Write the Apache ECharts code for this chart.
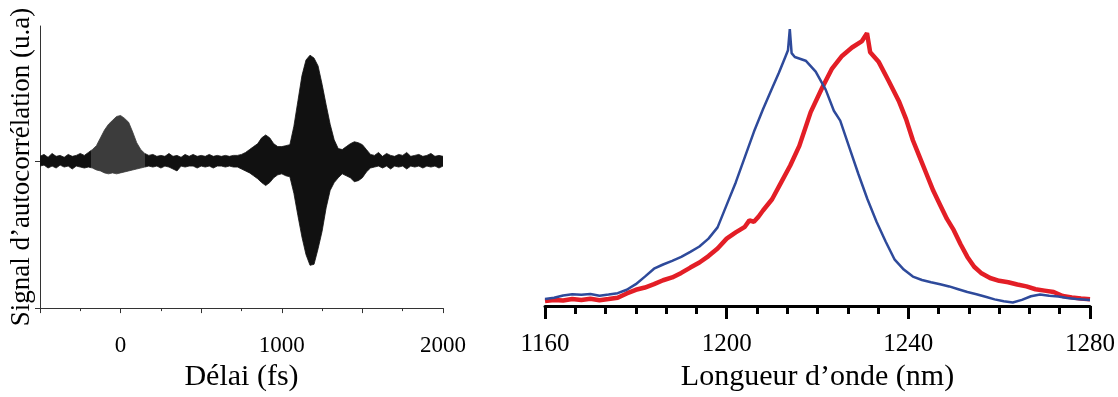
<!DOCTYPE html>
<html>
<head>
<meta charset="utf-8">
<script src="https://cdn.jsdelivr.net/npm/echarts@6/dist/echarts.min.js"></script>
<style>
html,body{margin:0;padding:0;background:#fff;}
#c{width:1118px;height:397px;}
</style>
</head>
<body>
<div id="c"></div>
<script>
// ---- Left panel: autocorrelation envelope (arbitrary units) ----
const delayFs = [-500,-475,-450,-425,-400,-375,-350,-325,-300,-275,-250,-225,-200,-175,-150,-125,-100,-75,-50,-25,
  0,25,50,75,100,125,150,175,200,225,250,275,300,325,350,375,400,425,450,475,
  500,525,550,575,600,625,650,675,700,725,750,775,800,825,850,875,900,925,950,975,
  1000,1025,1050,1075,1100,1125,1150,1175,1200,1225,1250,1275,1300,1325,1350,1375,1400,1425,1450,1475,
  1500,1525,1550,1575,1600,1625,1650,1675,1700,1725,1750,1775,1800,1825,1850,1875,1900,1925,1950,1975,2000];
const envUpper = [5,7,4,8,5,6,4,7,5,6,8,6,9,12,16,24,32,38,42,46,
  47,44,40,30,19,12,8,6,7,5,6,5,8,5,6,4,7,5,7,5,
  6,5,7,5,6,5,6,5,6,6,7,9,12,15,18,24,27,24,18,15,
  15,16,17,36,62,88,104,109,106,98,79,58,38,22,13,12,15,18,20,19,
  17,12,7,6,9,5,8,6,5,7,6,9,5,6,7,5,6,8,5,6,5];
const envLower = [-5,-4,-7,-5,-7,-4,-6,-5,-8,-5,-6,-7,-6,-7,-9,-10,-12,-13,-12,-13,
  -12,-11,-10,-9,-8,-7,-6,-5,-6,-5,-7,-5,-6,-8,-10,-5,-6,-5,-5,-7,
  -5,-6,-5,-7,-5,-5,-6,-5,-6,-6,-8,-10,-12,-15,-18,-22,-25,-22,-17,-14,
  -13,-15,-16,-33,-56,-78,-96,-107,-106,-90,-72,-48,-30,-22,-17,-13,-15,-17,-21,-20,
  -17,-11,-7,-6,-5,-7,-5,-8,-5,-6,-5,-8,-5,-6,-5,-7,-5,-6,-5,-7,-5];
const delayLabels = [0, 1000, 2000];

// ---- Right panel: spectra (normalised intensity) ----
const blueNm = [1160,1162,1164,1166,1168,1170,1172,1174,1176,1178,1180,1182,1184,1186,1188,1190,1192,1194,1196,1198,
  1200,1202,1204,1206,1208,1210,1211.5,1213,1213.5,1213.9,1214.3,1215,1217.4,1219.6,1221.8,1223.6,1225,1227,1229,1231,
  1233,1235,1237,1239,1241,1243,1245,1247,1249,1251,1253,1255,1257,1259,1261,1263,1265,1267,1269,1271,1273,1275,1277,1280];
const blueI = [0.025,0.03,0.038,0.042,0.04,0.043,0.037,0.041,0.046,0.058,0.078,0.105,0.133,0.148,0.161,0.175,0.193,0.212,0.24,0.28,
  0.36,0.44,0.53,0.62,0.70,0.775,0.83,0.89,0.91,0.985,0.9,0.886,0.873,0.834,0.77,0.695,0.66,0.565,0.47,0.38,
  0.3,0.23,0.165,0.13,0.105,0.093,0.085,0.078,0.07,0.06,0.05,0.042,0.033,0.024,0.017,0.013,0.022,0.035,0.041,0.037,0.034,0.029,0.025,0.022];
const redNm = [1160,1162,1164,1166,1168,1170,1172,1174,1176,1178,1180,1182,1184,1186,1188,1190,1192,1194,1196,1198,
  1200,1202,1204,1205,1206,1207,1208,1210,1212,1214,1216,1218.5,1221,1223.2,1225.4,1227.6,1229.8,1230.9,1231.6,1233.5,
  1235.7,1237.9,1239.5,1241,1242.5,1244,1245.5,1247,1248.5,1250,1251.5,1253,1254.5,1256,1258,1260,1262,1264,1266,1268,
  1270,1272,1274,1276,1278,1280];
const redI = [0.018,0.022,0.02,0.025,0.022,0.026,0.021,0.025,0.03,0.045,0.058,0.066,0.078,0.092,0.102,0.118,0.137,0.155,0.178,0.205,
  0.24,0.262,0.282,0.305,0.3,0.318,0.34,0.38,0.44,0.5,0.57,0.69,0.776,0.845,0.89,0.92,0.943,0.971,0.903,0.868,
  0.80,0.73,0.665,0.59,0.53,0.47,0.41,0.36,0.31,0.27,0.22,0.175,0.14,0.118,0.1,0.09,0.085,0.077,0.07,0.06,
  0.055,0.05,0.036,0.031,0.027,0.024];
const waveLabels = [1160, 1200, 1240, 1280];

const pairs = (xs, ys) => xs.map((x, i) => [x, ys[i]]);
const serif = '"Liberation Serif","DejaVu Serif",serif';
const plain = v => String(v);

const chart = echarts.init(document.getElementById('c'), null, {renderer: 'canvas'});
chart.setOption({
  animation: false,
  backgroundColor: '#fff',
  grid: [
    {left: 40, right: 675, top: 26, bottom: 81, containLabel: false},
    {left: 545, right: 26, top: 25, bottom: 82, containLabel: false}
  ],
  visualMap: {
    show: false, type: 'piecewise', dimension: 0, seriesIndex: [0, 1],
    pieces: [
      {lt: -185, color: '#111'},
      {gte: -185, lt: 150, color: '#3c3c3c'},
      {gte: 150, color: '#111'}
    ]
  },
  xAxis: [
    {
      gridIndex: 0, type: 'value', min: -500, max: 2000, interval: 500,
      axisLine: {show: true, onZero: false, lineStyle: {color: '#333', width: 1}},
      axisTick: {show: true, length: 5, lineStyle: {color: '#333', width: 1}},
      minorTick: {show: true, splitNumber: 2, length: 3, lineStyle: {color: '#333', width: 1}},
      splitLine: {show: false},
      axisLabel: {customValues: delayLabels, formatter: plain, color: '#000', fontFamily: serif, fontSize: 23, margin: 26},
      name: 'Délai (fs)', nameLocation: 'middle', nameGap: 50,
      nameTextStyle: {color: '#000', fontFamily: serif, fontSize: 30}
    },
    {
      gridIndex: 1, type: 'value', min: 1160, max: 1280, interval: 40,
      axisLine: {show: true, onZero: false, lineStyle: {color: '#000', width: 3}},
      axisTick: {show: true, length: 13, lineStyle: {color: '#000', width: 3}},
      minorTick: {show: true, splitNumber: 6, length: 8, lineStyle: {color: '#000', width: 3}},
      splitLine: {show: false},
      axisLabel: {customValues: waveLabels, formatter: plain, color: '#000', fontFamily: serif, fontSize: 25, margin: 26},
      name: 'Longueur d’onde (nm)', nameLocation: 'middle', nameGap: 53,
      nameTextStyle: {color: '#000', fontFamily: serif, fontSize: 30}
    }
  ],
  yAxis: [
    {
      gridIndex: 0, type: 'value', min: -151, max: 139,
      axisLine: {show: true, onZero: false, lineStyle: {color: '#333', width: 1}},
      axisTick: {show: true, customValues: [-151, 0], length: 5, lineStyle: {color: '#333', width: 1}},
      axisLabel: {show: false},
      splitLine: {show: false},
      name: 'Signal d’autocorrélation (u.a)', nameLocation: 'middle', nameGap: 5,
      nameTextStyle: {color: '#000', fontFamily: serif, fontSize: 27}
    },
    {
      gridIndex: 1, type: 'value', min: 0, max: 1, show: false
    }
  ],
  series: [
    {
      type: 'line', xAxisIndex: 0, yAxisIndex: 0, symbol: 'none',
      data: pairs(delayFs, envUpper),
      lineStyle: {width: 0.8},
      areaStyle: {opacity: 1, origin: -3}
    },
    {
      type: 'line', xAxisIndex: 0, yAxisIndex: 0, symbol: 'none',
      data: pairs(delayFs, envLower),
      lineStyle: {width: 0.8},
      areaStyle: {opacity: 1, origin: 3}
    },
    {
      type: 'line', xAxisIndex: 1, yAxisIndex: 1, symbol: 'none',
      data: pairs(redNm, redI),
      lineStyle: {color: '#e31e26', width: 4.5}
    },
    {
      type: 'line', xAxisIndex: 1, yAxisIndex: 1, symbol: 'none',
      data: pairs(blueNm, blueI),
      lineStyle: {color: '#2e4a9b', width: 2.5}
    }
  ]
});
</script>
</body>
</html>
